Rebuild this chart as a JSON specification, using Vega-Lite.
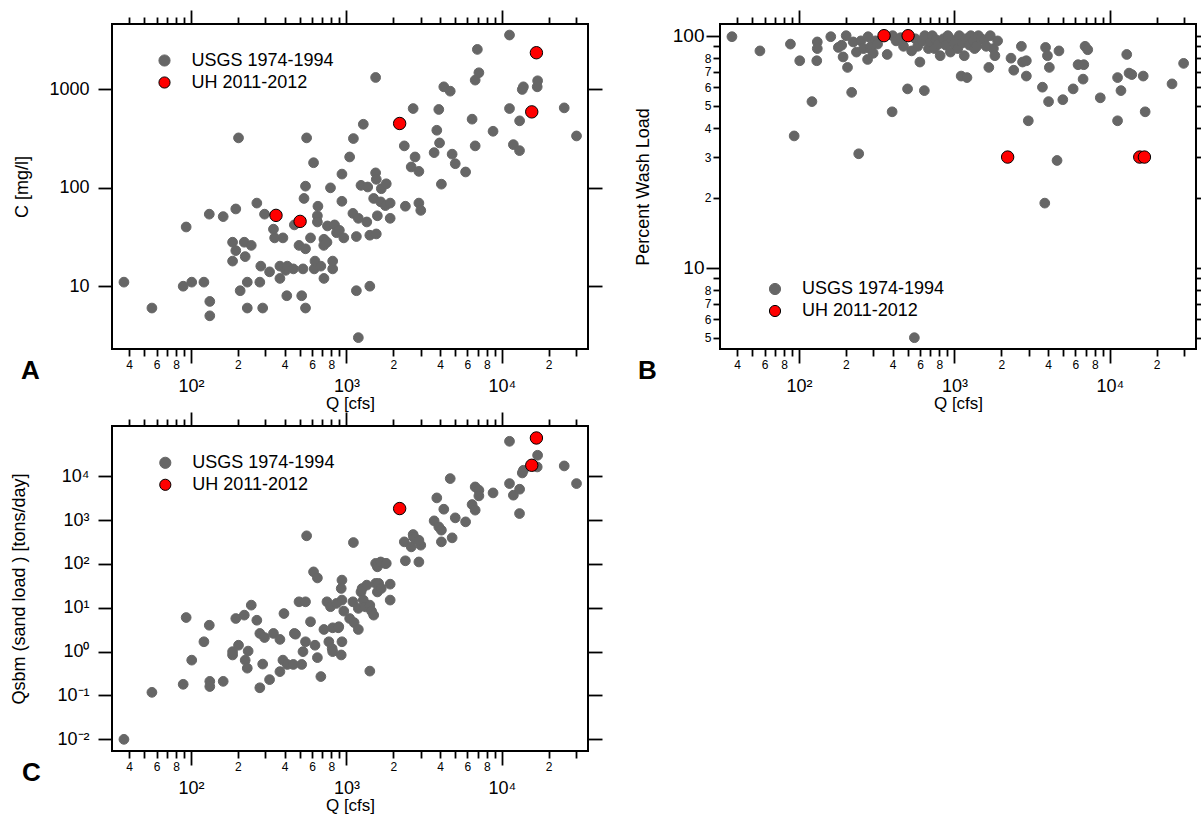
{
"$schema": "https://vega.github.io/schema/vega-lite/v6.json",
"padding": {"left": 9, "top": 8, "right": 2, "bottom": 2},
"background": "white",
"datasets": {
"A": [
{"q":37,"v":11,"s":"USGS 1974-1994"},{"q":56,"v":6,"s":"USGS 1974-1994"},{"q":89,"v":10,"s":"USGS 1974-1994"},{"q":101,"v":11,"s":"USGS 1974-1994"},{"q":121,"v":11,"s":"USGS 1974-1994"},{"q":132,"v":7,"s":"USGS 1974-1994"},{"q":132,"v":5,"s":"USGS 1974-1994"},{"q":93,"v":40,"s":"USGS 1974-1994"},{"q":131,"v":54,"s":"USGS 1974-1994"},{"q":161,"v":51,"s":"USGS 1974-1994"},{"q":194,"v":61,"s":"USGS 1974-1994"},{"q":202,"v":322,"s":"USGS 1974-1994"},{"q":185,"v":28,"s":"USGS 1974-1994"},{"q":194,"v":23,"s":"USGS 1974-1994"},{"q":220,"v":28,"s":"USGS 1974-1994"},{"q":223,"v":20,"s":"USGS 1974-1994"},{"q":244,"v":26,"s":"USGS 1974-1994"},{"q":185,"v":18,"s":"USGS 1974-1994"},{"q":207,"v":9,"s":"USGS 1974-1994"},{"q":230,"v":11,"s":"USGS 1974-1994"},{"q":230,"v":6,"s":"USGS 1974-1994"},{"q":289,"v":6,"s":"USGS 1974-1994"},{"q":277,"v":11,"s":"USGS 1974-1994"},{"q":281,"v":16,"s":"USGS 1974-1994"},{"q":265,"v":70,"s":"USGS 1974-1994"},{"q":297,"v":54,"s":"USGS 1974-1994"},{"q":320,"v":14,"s":"USGS 1974-1994"},{"q":339,"v":38,"s":"USGS 1974-1994"},{"q":345,"v":31,"s":"USGS 1974-1994"},{"q":390,"v":31,"s":"USGS 1974-1994"},{"q":373,"v":16,"s":"USGS 1974-1994"},{"q":373,"v":12,"s":"USGS 1974-1994"},{"q":406,"v":14.5,"s":"USGS 1974-1994"},{"q":416,"v":16,"s":"USGS 1974-1994"},{"q":413,"v":8,"s":"USGS 1974-1994"},{"q":455,"v":15,"s":"USGS 1974-1994"},{"q":462,"v":42,"s":"USGS 1974-1994"},{"q":515,"v":8,"s":"USGS 1974-1994"},{"q":525,"v":15,"s":"USGS 1974-1994"},{"q":545,"v":6,"s":"USGS 1974-1994"},{"q":495,"v":26,"s":"USGS 1974-1994"},{"q":545,"v":24,"s":"USGS 1974-1994"},{"q":533,"v":78,"s":"USGS 1974-1994"},{"q":545,"v":104,"s":"USGS 1974-1994"},{"q":554,"v":322,"s":"USGS 1974-1994"},{"q":614,"v":180,"s":"USGS 1974-1994"},{"q":587,"v":31,"s":"USGS 1974-1994"},{"q":620,"v":15,"s":"USGS 1974-1994"},{"q":627,"v":18,"s":"USGS 1974-1994"},{"q":650,"v":52,"s":"USGS 1974-1994"},{"q":655,"v":65,"s":"USGS 1974-1994"},{"q":650,"v":45,"s":"USGS 1974-1994"},{"q":684,"v":16,"s":"USGS 1974-1994"},{"q":716,"v":12,"s":"USGS 1974-1994"},{"q":716,"v":30,"s":"USGS 1974-1994"},{"q":714,"v":26,"s":"USGS 1974-1994"},{"q":749,"v":28,"s":"USGS 1974-1994"},{"q":754,"v":41,"s":"USGS 1974-1994"},{"q":789,"v":100,"s":"USGS 1974-1994"},{"q":815,"v":15,"s":"USGS 1974-1994"},{"q":815,"v":18,"s":"USGS 1974-1994"},{"q":838,"v":42,"s":"USGS 1974-1994"},{"q":863,"v":35,"s":"USGS 1974-1994"},{"q":900,"v":37,"s":"USGS 1974-1994"},{"q":934,"v":73,"s":"USGS 1974-1994"},{"q":935,"v":138,"s":"USGS 1974-1994"},{"q":961,"v":31,"s":"USGS 1974-1994"},{"q":1048,"v":206,"s":"USGS 1974-1994"},{"q":1108,"v":317,"s":"USGS 1974-1994"},{"q":1100,"v":55,"s":"USGS 1974-1994"},{"q":1158,"v":32,"s":"USGS 1974-1994"},{"q":1158,"v":9,"s":"USGS 1974-1994"},{"q":1192,"v":3,"s":"USGS 1974-1994"},{"q":1283,"v":443,"s":"USGS 1974-1994"},{"q":1240,"v":106,"s":"USGS 1974-1994"},{"q":1192,"v":49,"s":"USGS 1974-1994"},{"q":1351,"v":45,"s":"USGS 1974-1994"},{"q":1413,"v":33,"s":"USGS 1974-1994"},{"q":1413,"v":10,"s":"USGS 1974-1994"},{"q":1370,"v":102,"s":"USGS 1974-1994"},{"q":1540,"v":1324,"s":"USGS 1974-1994"},{"q":1540,"v":142,"s":"USGS 1974-1994"},{"q":1555,"v":122,"s":"USGS 1974-1994"},{"q":1496,"v":78,"s":"USGS 1974-1994"},{"q":1555,"v":34,"s":"USGS 1974-1994"},{"q":1580,"v":52,"s":"USGS 1974-1994"},{"q":1675,"v":98,"s":"USGS 1974-1994"},{"q":1660,"v":72,"s":"USGS 1974-1994"},{"q":1803,"v":110,"s":"USGS 1974-1994"},{"q":1780,"v":66,"s":"USGS 1974-1994"},{"q":1910,"v":70,"s":"USGS 1974-1994"},{"q":1910,"v":49,"s":"USGS 1974-1994"},{"q":2355,"v":267,"s":"USGS 1974-1994"},{"q":2685,"v":640,"s":"USGS 1974-1994"},{"q":2762,"v":206,"s":"USGS 1974-1994"},{"q":2609,"v":163,"s":"USGS 1974-1994"},{"q":2923,"v":147,"s":"USGS 1974-1994"},{"q":2393,"v":65,"s":"USGS 1974-1994"},{"q":2923,"v":70,"s":"USGS 1974-1994"},{"q":3006,"v":59,"s":"USGS 1974-1994"},{"q":3664,"v":228,"s":"USGS 1974-1994"},{"q":3812,"v":385,"s":"USGS 1974-1994"},{"q":3925,"v":626,"s":"USGS 1974-1994"},{"q":3970,"v":286,"s":"USGS 1974-1994"},{"q":4080,"v":109,"s":"USGS 1974-1994"},{"q":4228,"v":1064,"s":"USGS 1974-1994"},{"q":4650,"v":961,"s":"USGS 1974-1994"},{"q":4783,"v":220,"s":"USGS 1974-1994"},{"q":5010,"v":176,"s":"USGS 1974-1994"},{"q":5840,"v":145,"s":"USGS 1974-1994"},{"q":6430,"v":499,"s":"USGS 1974-1994"},{"q":6730,"v":267,"s":"USGS 1974-1994"},{"q":6730,"v":1245,"s":"USGS 1974-1994"},{"q":7110,"v":1479,"s":"USGS 1974-1994"},{"q":6950,"v":2554,"s":"USGS 1974-1994"},{"q":8770,"v":376,"s":"USGS 1974-1994"},{"q":11190,"v":3575,"s":"USGS 1974-1994"},{"q":11190,"v":640,"s":"USGS 1974-1994"},{"q":11850,"v":275,"s":"USGS 1974-1994"},{"q":12980,"v":239,"s":"USGS 1974-1994"},{"q":13000,"v":480,"s":"USGS 1974-1994"},{"q":13520,"v":1000,"s":"USGS 1974-1994"},{"q":13750,"v":1064,"s":"USGS 1974-1994"},{"q":16870,"v":1064,"s":"USGS 1974-1994"},{"q":16970,"v":1226,"s":"USGS 1974-1994"},{"q":25170,"v":650,"s":"USGS 1974-1994"},{"q":30200,"v":337,"s":"USGS 1974-1994"},
{"q":352,"v":52.5,"s":"UH 2011-2012"},{"q":503,"v":45.6,"s":"UH 2011-2012"},{"q":2198,"v":451,"s":"UH 2011-2012"},{"q":15560,"v":592,"s":"UH 2011-2012"},{"q":16670,"v":2364,"s":"UH 2011-2012"}
],
"B": [
{"q":37,"v":99,"s":"USGS 1974-1994"},{"q":56,"v":86,"s":"USGS 1974-1994"},{"q":88,"v":92,"s":"USGS 1974-1994"},{"q":101,"v":78,"s":"USGS 1974-1994"},{"q":93,"v":37,"s":"USGS 1974-1994"},{"q":121,"v":52,"s":"USGS 1974-1994"},{"q":130,"v":78,"s":"USGS 1974-1994"},{"q":131,"v":94,"s":"USGS 1974-1994"},{"q":131,"v":88,"s":"USGS 1974-1994"},{"q":160,"v":99,"s":"USGS 1974-1994"},{"q":201,"v":100,"s":"USGS 1974-1994"},{"q":188,"v":91,"s":"USGS 1974-1994"},{"q":192,"v":81,"s":"USGS 1974-1994"},{"q":205,"v":73,"s":"USGS 1974-1994"},{"q":218,"v":57,"s":"USGS 1974-1994"},{"q":223,"v":94,"s":"USGS 1974-1994"},{"q":234,"v":85,"s":"USGS 1974-1994"},{"q":179,"v":89,"s":"USGS 1974-1994"},{"q":242,"v":31,"s":"USGS 1974-1994"},{"q":250,"v":95,"s":"USGS 1974-1994"},{"q":260,"v":88,"s":"USGS 1974-1994"},{"q":276,"v":79,"s":"USGS 1974-1994"},{"q":278,"v":99,"s":"USGS 1974-1994"},{"q":286,"v":88,"s":"USGS 1974-1994"},{"q":291,"v":90,"s":"USGS 1974-1994"},{"q":300,"v":84,"s":"USGS 1974-1994"},{"q":310,"v":95,"s":"USGS 1974-1994"},{"q":320,"v":92,"s":"USGS 1974-1994"},{"q":369,"v":83,"s":"USGS 1974-1994"},{"q":397,"v":47,"s":"USGS 1974-1994"},{"q":400,"v":100,"s":"USGS 1974-1994"},{"q":421,"v":95,"s":"USGS 1974-1994"},{"q":450,"v":98,"s":"USGS 1974-1994"},{"q":470,"v":90,"s":"USGS 1974-1994"},{"q":499,"v":59,"s":"USGS 1974-1994"},{"q":530,"v":86,"s":"USGS 1974-1994"},{"q":552,"v":5,"s":"USGS 1974-1994"},{"q":560,"v":97,"s":"USGS 1974-1994"},{"q":580,"v":90,"s":"USGS 1974-1994"},{"q":599,"v":77,"s":"USGS 1974-1994"},{"q":620,"v":95,"s":"USGS 1974-1994"},{"q":640,"v":58,"s":"USGS 1974-1994"},{"q":644,"v":100,"s":"USGS 1974-1994"},{"q":680,"v":88,"s":"USGS 1974-1994"},{"q":700,"v":94,"s":"USGS 1974-1994"},{"q":720,"v":100,"s":"USGS 1974-1994"},{"q":743,"v":88,"s":"USGS 1974-1994"},{"q":760,"v":96,"s":"USGS 1974-1994"},{"q":790,"v":92,"s":"USGS 1974-1994"},{"q":809,"v":82,"s":"USGS 1974-1994"},{"q":850,"v":97,"s":"USGS 1974-1994"},{"q":881,"v":91,"s":"USGS 1974-1994"},{"q":906,"v":100,"s":"USGS 1974-1994"},{"q":942,"v":85,"s":"USGS 1974-1994"},{"q":960,"v":96,"s":"USGS 1974-1994"},{"q":1000,"v":92,"s":"USGS 1974-1994"},{"q":1050,"v":88,"s":"USGS 1974-1994"},{"q":1074,"v":100,"s":"USGS 1974-1994"},{"q":1104,"v":67,"s":"USGS 1974-1994"},{"q":1120,"v":93,"s":"USGS 1974-1994"},{"q":1156,"v":82,"s":"USGS 1974-1994"},{"q":1180,"v":97,"s":"USGS 1974-1994"},{"q":1203,"v":66,"s":"USGS 1974-1994"},{"q":1250,"v":91,"s":"USGS 1974-1994"},{"q":1273,"v":100,"s":"USGS 1974-1994"},{"q":1320,"v":95,"s":"USGS 1974-1994"},{"q":1347,"v":88,"s":"USGS 1974-1994"},{"q":1390,"v":90,"s":"USGS 1974-1994"},{"q":1426,"v":100,"s":"USGS 1974-1994"},{"q":1480,"v":97,"s":"USGS 1974-1994"},{"q":1552,"v":96,"s":"USGS 1974-1994"},{"q":1600,"v":90,"s":"USGS 1974-1994"},{"q":1663,"v":73,"s":"USGS 1974-1994"},{"q":1700,"v":100,"s":"USGS 1974-1994"},{"q":1780,"v":88,"s":"USGS 1974-1994"},{"q":1820,"v":82,"s":"USGS 1974-1994"},{"q":1894,"v":95,"s":"USGS 1974-1994"},{"q":2310,"v":80,"s":"USGS 1974-1994"},{"q":2406,"v":71,"s":"USGS 1974-1994"},{"q":2694,"v":90,"s":"USGS 1974-1994"},{"q":2741,"v":77,"s":"USGS 1974-1994"},{"q":2900,"v":78,"s":"USGS 1974-1994"},{"q":2900,"v":67,"s":"USGS 1974-1994"},{"q":2985,"v":43,"s":"USGS 1974-1994"},{"q":3680,"v":60,"s":"USGS 1974-1994"},{"q":3810,"v":19,"s":"USGS 1974-1994"},{"q":3855,"v":89,"s":"USGS 1974-1994"},{"q":3964,"v":82,"s":"USGS 1974-1994"},{"q":4077,"v":73,"s":"USGS 1974-1994"},{"q":4030,"v":52,"s":"USGS 1974-1994"},{"q":4570,"v":29,"s":"USGS 1974-1994"},{"q":4700,"v":86,"s":"USGS 1974-1994"},{"q":4977,"v":53,"s":"USGS 1974-1994"},{"q":5800,"v":59,"s":"USGS 1974-1994"},{"q":6240,"v":75,"s":"USGS 1974-1994"},{"q":6790,"v":75,"s":"USGS 1974-1994"},{"q":6720,"v":65,"s":"USGS 1974-1994"},{"q":6920,"v":90,"s":"USGS 1974-1994"},{"q":7200,"v":87,"s":"USGS 1974-1994"},{"q":8670,"v":54,"s":"USGS 1974-1994"},{"q":11200,"v":43,"s":"USGS 1974-1994"},{"q":11200,"v":66,"s":"USGS 1974-1994"},{"q":11780,"v":58,"s":"USGS 1974-1994"},{"q":12830,"v":83,"s":"USGS 1974-1994"},{"q":13280,"v":69,"s":"USGS 1974-1994"},{"q":13830,"v":68,"s":"USGS 1974-1994"},{"q":16380,"v":67,"s":"USGS 1974-1994"},{"q":16860,"v":47,"s":"USGS 1974-1994"},{"q":25100,"v":62,"s":"USGS 1974-1994"},{"q":29800,"v":76,"s":"USGS 1974-1994"},
{"q":352,"v":100,"s":"UH 2011-2012"},{"q":503,"v":100,"s":"UH 2011-2012"},{"q":2198,"v":30,"s":"UH 2011-2012"},{"q":15560,"v":30,"s":"UH 2011-2012"},{"q":16670,"v":30,"s":"UH 2011-2012"}
],
"C": [
{"q":37,"v":0.01,"s":"USGS 1974-1994"},{"q":56,"v":0.118,"s":"USGS 1974-1994"},{"q":89,"v":0.18,"s":"USGS 1974-1994"},{"q":93,"v":6.0,"s":"USGS 1974-1994"},{"q":101,"v":0.64,"s":"USGS 1974-1994"},{"q":121,"v":1.68,"s":"USGS 1974-1994"},{"q":131,"v":4.0,"s":"USGS 1974-1994"},{"q":132,"v":0.21,"s":"USGS 1974-1994"},{"q":132,"v":0.16,"s":"USGS 1974-1994"},{"q":161,"v":0.21,"s":"USGS 1974-1994"},{"q":185,"v":0.84,"s":"USGS 1974-1994"},{"q":194,"v":5.7,"s":"USGS 1974-1994"},{"q":202,"v":1.4,"s":"USGS 1974-1994"},{"q":185,"v":1.0,"s":"USGS 1974-1994"},{"q":220,"v":6.8,"s":"USGS 1974-1994"},{"q":223,"v":0.64,"s":"USGS 1974-1994"},{"q":230,"v":0.42,"s":"USGS 1974-1994"},{"q":233,"v":1.03,"s":"USGS 1974-1994"},{"q":244,"v":11.5,"s":"USGS 1974-1994"},{"q":265,"v":5.2,"s":"USGS 1974-1994"},{"q":277,"v":2.6,"s":"USGS 1974-1994"},{"q":289,"v":0.52,"s":"USGS 1974-1994"},{"q":277,"v":0.15,"s":"USGS 1974-1994"},{"q":297,"v":2.1,"s":"USGS 1974-1994"},{"q":320,"v":0.23,"s":"USGS 1974-1994"},{"q":339,"v":2.6,"s":"USGS 1974-1994"},{"q":373,"v":1.9,"s":"USGS 1974-1994"},{"q":373,"v":0.35,"s":"USGS 1974-1994"},{"q":390,"v":0.64,"s":"USGS 1974-1994"},{"q":396,"v":7.4,"s":"USGS 1974-1994"},{"q":416,"v":0.51,"s":"USGS 1974-1994"},{"q":462,"v":2.6,"s":"USGS 1974-1994"},{"q":470,"v":2.5,"s":"USGS 1974-1994"},{"q":455,"v":0.51,"s":"USGS 1974-1994"},{"q":515,"v":0.51,"s":"USGS 1974-1994"},{"q":525,"v":1.0,"s":"USGS 1974-1994"},{"q":545,"v":1.68,"s":"USGS 1974-1994"},{"q":495,"v":13.7,"s":"USGS 1974-1994"},{"q":545,"v":13.7,"s":"USGS 1974-1994"},{"q":554,"v":438,"s":"USGS 1974-1994"},{"q":587,"v":4.8,"s":"USGS 1974-1994"},{"q":614,"v":66,"s":"USGS 1974-1994"},{"q":650,"v":48,"s":"USGS 1974-1994"},{"q":627,"v":1.4,"s":"USGS 1974-1994"},{"q":650,"v":0.73,"s":"USGS 1974-1994"},{"q":684,"v":0.27,"s":"USGS 1974-1994"},{"q":716,"v":3.2,"s":"USGS 1974-1994"},{"q":749,"v":13.7,"s":"USGS 1974-1994"},{"q":770,"v":1.68,"s":"USGS 1974-1994"},{"q":789,"v":10.6,"s":"USGS 1974-1994"},{"q":809,"v":1.17,"s":"USGS 1974-1994"},{"q":815,"v":1.0,"s":"USGS 1974-1994"},{"q":815,"v":3.5,"s":"USGS 1974-1994"},{"q":863,"v":12.6,"s":"USGS 1974-1994"},{"q":885,"v":3.5,"s":"USGS 1974-1994"},{"q":892,"v":3.7,"s":"USGS 1974-1994"},{"q":935,"v":42.8,"s":"USGS 1974-1994"},{"q":925,"v":27.6,"s":"USGS 1974-1994"},{"q":935,"v":15,"s":"USGS 1974-1994"},{"q":935,"v":1.68,"s":"USGS 1974-1994"},{"q":925,"v":0.84,"s":"USGS 1974-1994"},{"q":961,"v":8.4,"s":"USGS 1974-1994"},{"q":1048,"v":5.7,"s":"USGS 1974-1994"},{"q":1108,"v":308,"s":"USGS 1974-1994"},{"q":1100,"v":13.7,"s":"USGS 1974-1994"},{"q":1120,"v":4.6,"s":"USGS 1974-1994"},{"q":1192,"v":3.2,"s":"USGS 1974-1994"},{"q":1192,"v":9.7,"s":"USGS 1974-1994"},{"q":1240,"v":23,"s":"USGS 1974-1994"},{"q":1260,"v":27.5,"s":"USGS 1974-1994"},{"q":1283,"v":15,"s":"USGS 1974-1994"},{"q":1325,"v":10.5,"s":"USGS 1974-1994"},{"q":1351,"v":32.9,"s":"USGS 1974-1994"},{"q":1413,"v":0.36,"s":"USGS 1974-1994"},{"q":1413,"v":11.5,"s":"USGS 1974-1994"},{"q":1450,"v":8.4,"s":"USGS 1974-1994"},{"q":1540,"v":103,"s":"USGS 1974-1994"},{"q":1540,"v":36,"s":"USGS 1974-1994"},{"q":1580,"v":23,"s":"USGS 1974-1994"},{"q":1496,"v":6.8,"s":"USGS 1974-1994"},{"q":1580,"v":86,"s":"USGS 1974-1994"},{"q":1610,"v":36,"s":"USGS 1974-1994"},{"q":1660,"v":111,"s":"USGS 1974-1994"},{"q":1675,"v":27.6,"s":"USGS 1974-1994"},{"q":1780,"v":102,"s":"USGS 1974-1994"},{"q":1803,"v":103,"s":"USGS 1974-1994"},{"q":1910,"v":34.6,"s":"USGS 1974-1994"},{"q":1910,"v":15,"s":"USGS 1974-1994"},{"q":2355,"v":319,"s":"USGS 1974-1994"},{"q":2393,"v":118,"s":"USGS 1974-1994"},{"q":2609,"v":245,"s":"USGS 1974-1994"},{"q":2685,"v":469,"s":"USGS 1974-1994"},{"q":2700,"v":414,"s":"USGS 1974-1994"},{"q":2762,"v":380,"s":"USGS 1974-1994"},{"q":2923,"v":111,"s":"USGS 1974-1994"},{"q":3006,"v":268,"s":"USGS 1974-1994"},{"q":2923,"v":347,"s":"USGS 1974-1994"},{"q":3664,"v":961,"s":"USGS 1974-1994"},{"q":3812,"v":3210,"s":"USGS 1974-1994"},{"q":3925,"v":701,"s":"USGS 1974-1994"},{"q":4080,"v":319,"s":"USGS 1974-1994"},{"q":4080,"v":589,"s":"USGS 1974-1994"},{"q":4228,"v":1771,"s":"USGS 1974-1994"},{"q":4650,"v":8850,"s":"USGS 1974-1994"},{"q":4783,"v":394,"s":"USGS 1974-1994"},{"q":5010,"v":1125,"s":"USGS 1974-1994"},{"q":5840,"v":912,"s":"USGS 1974-1994"},{"q":6430,"v":2264,"s":"USGS 1974-1994"},{"q":6730,"v":5710,"s":"USGS 1974-1994"},{"q":7110,"v":4800,"s":"USGS 1974-1994"},{"q":6730,"v":1687,"s":"USGS 1974-1994"},{"q":7110,"v":3565,"s":"USGS 1974-1994"},{"q":8770,"v":4170,"s":"USGS 1974-1994"},{"q":11190,"v":62700,"s":"USGS 1974-1994"},{"q":11190,"v":6810,"s":"USGS 1974-1994"},{"q":11850,"v":3700,"s":"USGS 1974-1994"},{"q":13000,"v":5060,"s":"USGS 1974-1994"},{"q":12980,"v":1411,"s":"USGS 1974-1994"},{"q":13520,"v":11900,"s":"USGS 1974-1994"},{"q":13750,"v":13700,"s":"USGS 1974-1994"},{"q":16870,"v":16300,"s":"USGS 1974-1994"},{"q":16970,"v":30100,"s":"USGS 1974-1994"},{"q":25170,"v":17200,"s":"USGS 1974-1994"},{"q":30200,"v":6810,"s":"USGS 1974-1994"},
{"q":2198,"v":1834,"s":"UH 2011-2012"},{"q":15560,"v":17800,"s":"UH 2011-2012"},{"q":16670,"v":74600,"s":"UH 2011-2012"}
]
},
"columns": 2,
"bounds": "flush",
"spacing": {"row": 77, "column": 132},
"resolve": {"scale": {"color": "independent", "stroke": "independent"}, "legend": {"color": "independent", "stroke": "independent"}},
"concat": [
{
"width": 476, "height": 325,
"title": {"text": "A", "orient": "bottom", "anchor": "start", "frame": "group", "dx": -91, "dy": -57},
"layer": [
{"data": {"name": "A"}, "transform": [{"filter": "datum.s == 'USGS 1974-1994'"}],
"mark": {"type": "point", "filled": true, "opacity": 1, "size": 95, "strokeWidth": 1},
"encoding": {
"x": {"field": "q", "type": "quantitative", "scale": {"type": "log", "domain": [31, 35800], "nice": false},
"axis": {"orient": "bottom", "values": [40,50,60,70,80,90,100,200,300,400,500,600,700,800,900,1000,2000,3000,4000,5000,6000,7000,8000,9000,10000,20000,30000], "title": "Q [cfs]", "titlePadding": 0, "titleFontSize": 17,
"labelExpr": "datum.value == 100 ? '10²' : datum.value == 1000 ? '10³' : datum.value == 10000 ? '10⁴' : indexof([40,60,80,200,400,600,800,2000,4000,6000,8000,20000], datum.value) >= 0 ? substring(toString(datum.value), 0, 1) : ''",
"labelFontSize": {"condition": {"test": "datum.value == 100 || datum.value == 1000 || datum.value == 10000", "value": 18}, "value": 12},
"labelPadding": {"condition": {"test": "datum.value == 100 || datum.value == 1000 || datum.value == 10000", "value": 14}, "value": 3},
"tickSize": {"condition": {"test": "datum.value == 100 || datum.value == 1000 || datum.value == 10000", "value": 14}, "value": 7}}},
"y": {"field": "v", "type": "quantitative", "scale": {"type": "log", "domain": [2.3, 4630], "nice": false},
"axis": {"orient": "left", "values": [10,100,1000], "format": "d", "title": "C [mg/l]", "tickSize": 14, "labelPadding": 9, "titlePadding": 17, "labelFontSize": 18}},
"color": {"field": "s", "type": "nominal", "scale": {"domain": ["USGS 1974-1994", "UH 2011-2012"], "range": ["#666666", "#ff0000"]}, "legend": {"title": null, "orient": "none", "legendX": 43.5, "legendY": 27.5}},
"stroke": {"field": "s", "type": "nominal", "scale": {"domain": ["USGS 1974-1994", "UH 2011-2012"], "range": ["#666666", "#000000"]}, "legend": {"title": null, "orient": "none", "legendX": 43.5, "legendY": 27.5}}
}},
{"data": {"name": "A"}, "transform": [{"filter": "datum.s == 'UH 2011-2012'"}],
"mark": {"type": "point", "filled": true, "opacity": 1, "size": 154, "strokeWidth": 1},
"encoding": {
"x": {"field": "q", "type": "quantitative", "scale": {"type": "log", "domain": [31, 35800], "nice": false},
"axis": {"orient": "top", "values": [40,50,60,70,80,90,100,200,300,400,500,600,700,800,900,1000,2000,3000,4000,5000,6000,7000,8000,9000,10000,20000,30000], "labels": false, "title": null,
"tickSize": {"condition": {"test": "datum.value == 100 || datum.value == 1000 || datum.value == 10000", "value": 14}, "value": 7}}},
"y": {"field": "v", "type": "quantitative", "scale": {"type": "log", "domain": [2.3, 4630], "nice": false},
"axis": {"orient": "right", "values": [10,100,1000], "labels": false, "title": null, "tickSize": 14}},
"color": {"field": "s", "type": "nominal", "scale": {"domain": ["USGS 1974-1994", "UH 2011-2012"], "range": ["#666666", "#ff0000"]}, "legend": {"title": null, "orient": "none", "legendX": 43.5, "legendY": 27.5}},
"stroke": {"field": "s", "type": "nominal", "scale": {"domain": ["USGS 1974-1994", "UH 2011-2012"], "range": ["#666666", "#000000"]}, "legend": {"title": null, "orient": "none", "legendX": 43.5, "legendY": 27.5}}
}}
],
"resolve": {"axis": {"x": "independent", "y": "independent"}}
},
{
"width": 476, "height": 325,
"title": {"text": "B", "orient": "bottom", "anchor": "start", "frame": "group", "dx": -82, "dy": -57},
"layer": [
{"data": {"name": "B"}, "transform": [{"filter": "datum.s == 'USGS 1974-1994'"}],
"mark": {"type": "point", "filled": true, "opacity": 1, "size": 95, "strokeWidth": 1},
"encoding": {
"x": {"field": "q", "type": "quantitative", "scale": {"type": "log", "domain": [31, 35800], "nice": false},
"axis": {"orient": "bottom", "values": [40,50,60,70,80,90,100,200,300,400,500,600,700,800,900,1000,2000,3000,4000,5000,6000,7000,8000,9000,10000,20000,30000], "title": "Q [cfs]", "titlePadding": 0, "titleFontSize": 17,
"labelExpr": "datum.value == 100 ? '10²' : datum.value == 1000 ? '10³' : datum.value == 10000 ? '10⁴' : indexof([40,60,80,200,400,600,800,2000,4000,6000,8000,20000], datum.value) >= 0 ? substring(toString(datum.value), 0, 1) : ''",
"labelFontSize": {"condition": {"test": "datum.value == 100 || datum.value == 1000 || datum.value == 10000", "value": 18}, "value": 12},
"labelPadding": {"condition": {"test": "datum.value == 100 || datum.value == 1000 || datum.value == 10000", "value": 14}, "value": 3},
"tickSize": {"condition": {"test": "datum.value == 100 || datum.value == 1000 || datum.value == 10000", "value": 14}, "value": 7}}},
"y": {"field": "v", "type": "quantitative", "scale": {"type": "log", "domain": [4.47, 112.3], "nice": false},
"axis": {"orient": "left", "values": [5,6,7,8,9,10,20,30,40,50,60,70,80,90,100], "title": "Percent Wash Load", "labelPadding": 2, "titlePadding": 20,
"labelExpr": "datum.value == 100 ? '100' : datum.value == 10 ? '10' : (datum.value == 9 || datum.value == 90) ? '' : substring(toString(datum.value), 0, 1)",
"labelFontSize": {"condition": {"test": "datum.value == 10 || datum.value == 100", "value": 19}, "value": 12},
"tickSize": {"condition": {"test": "datum.value == 10 || datum.value == 100", "value": 14}, "value": 7}}},
"color": {"field": "s", "type": "nominal", "scale": {"domain": ["USGS 1974-1994", "UH 2011-2012"], "range": ["#666666", "#ff0000"]}, "legend": {"title": null, "orient": "none", "legendX": 46, "legendY": 256}},
"stroke": {"field": "s", "type": "nominal", "scale": {"domain": ["USGS 1974-1994", "UH 2011-2012"], "range": ["#666666", "#000000"]}, "legend": {"title": null, "orient": "none", "legendX": 46, "legendY": 256}}
}},
{"data": {"name": "B"}, "transform": [{"filter": "datum.s == 'UH 2011-2012'"}],
"mark": {"type": "point", "filled": true, "opacity": 1, "size": 154, "strokeWidth": 1},
"encoding": {
"x": {"field": "q", "type": "quantitative", "scale": {"type": "log", "domain": [31, 35800], "nice": false},
"axis": {"orient": "top", "values": [40,50,60,70,80,90,100,200,300,400,500,600,700,800,900,1000,2000,3000,4000,5000,6000,7000,8000,9000,10000,20000,30000], "labels": false, "title": null,
"tickSize": {"condition": {"test": "datum.value == 100 || datum.value == 1000 || datum.value == 10000", "value": 14}, "value": 7}}},
"y": {"field": "v", "type": "quantitative", "scale": {"type": "log", "domain": [4.47, 112.3], "nice": false},
"axis": {"orient": "right", "values": [5,6,7,8,9,10,20,30,40,50,60,70,80,90,100], "labels": false, "title": null,
"tickSize": {"condition": {"test": "datum.value == 10 || datum.value == 100", "value": 14}, "value": 7}}},
"color": {"field": "s", "type": "nominal", "scale": {"domain": ["USGS 1974-1994", "UH 2011-2012"], "range": ["#666666", "#ff0000"]}, "legend": {"title": null, "orient": "none", "legendX": 46, "legendY": 256}},
"stroke": {"field": "s", "type": "nominal", "scale": {"domain": ["USGS 1974-1994", "UH 2011-2012"], "range": ["#666666", "#000000"]}, "legend": {"title": null, "orient": "none", "legendX": 46, "legendY": 256}}
}}
],
"resolve": {"axis": {"x": "independent", "y": "independent"}}
},
{
"width": 476, "height": 325,
"title": {"text": "C", "orient": "bottom", "anchor": "start", "frame": "group", "dx": -90, "dy": -57},
"layer": [
{"data": {"name": "C"}, "transform": [{"filter": "datum.s == 'USGS 1974-1994'"}],
"mark": {"type": "point", "filled": true, "opacity": 1, "size": 95, "strokeWidth": 1},
"encoding": {
"x": {"field": "q", "type": "quantitative", "scale": {"type": "log", "domain": [31, 35800], "nice": false},
"axis": {"orient": "bottom", "values": [40,50,60,70,80,90,100,200,300,400,500,600,700,800,900,1000,2000,3000,4000,5000,6000,7000,8000,9000,10000,20000,30000], "title": "Q [cfs]", "titlePadding": 0, "titleFontSize": 17,
"labelExpr": "datum.value == 100 ? '10²' : datum.value == 1000 ? '10³' : datum.value == 10000 ? '10⁴' : indexof([40,60,80,200,400,600,800,2000,4000,6000,8000,20000], datum.value) >= 0 ? substring(toString(datum.value), 0, 1) : ''",
"labelFontSize": {"condition": {"test": "datum.value == 100 || datum.value == 1000 || datum.value == 10000", "value": 18}, "value": 12},
"labelPadding": {"condition": {"test": "datum.value == 100 || datum.value == 1000 || datum.value == 10000", "value": 14}, "value": 3},
"tickSize": {"condition": {"test": "datum.value == 100 || datum.value == 1000 || datum.value == 10000", "value": 14}, "value": 7}}},
"y": {"field": "v", "type": "quantitative", "scale": {"type": "log", "domain": [0.00542, 140000], "nice": false},
"axis": {"orient": "left", "values": [0.01,0.1,1,10,100,1000,10000], "title": "Qsbm (sand load ) [tons/day]", "tickSize": 14, "labelPadding": 9, "titlePadding": 28, "labelFontSize": 18,
"labelExpr": "datum.value == 0.01 ? '10⁻²' : datum.value == 0.1 ? '10⁻¹' : datum.value == 1 ? '10⁰' : datum.value == 10 ? '10¹' : datum.value == 100 ? '10²' : datum.value == 1000 ? '10³' : '10⁴'"}},
"color": {"field": "s", "type": "nominal", "scale": {"domain": ["USGS 1974-1994", "UH 2011-2012"], "range": ["#666666", "#ff0000"]}, "legend": {"title": null, "orient": "none", "legendX": 44.3, "legendY": 27.8}},
"stroke": {"field": "s", "type": "nominal", "scale": {"domain": ["USGS 1974-1994", "UH 2011-2012"], "range": ["#666666", "#000000"]}, "legend": {"title": null, "orient": "none", "legendX": 44.3, "legendY": 27.8}}
}},
{"data": {"name": "C"}, "transform": [{"filter": "datum.s == 'UH 2011-2012'"}],
"mark": {"type": "point", "filled": true, "opacity": 1, "size": 154, "strokeWidth": 1},
"encoding": {
"x": {"field": "q", "type": "quantitative", "scale": {"type": "log", "domain": [31, 35800], "nice": false},
"axis": {"orient": "top", "values": [40,50,60,70,80,90,100,200,300,400,500,600,700,800,900,1000,2000,3000,4000,5000,6000,7000,8000,9000,10000,20000,30000], "labels": false, "title": null,
"tickSize": {"condition": {"test": "datum.value == 100 || datum.value == 1000 || datum.value == 10000", "value": 14}, "value": 7}}},
"y": {"field": "v", "type": "quantitative", "scale": {"type": "log", "domain": [0.00542, 140000], "nice": false},
"axis": {"orient": "right", "values": [0.01,0.1,1,10,100,1000,10000], "labels": false, "title": null, "tickSize": 14}},
"color": {"field": "s", "type": "nominal", "scale": {"domain": ["USGS 1974-1994", "UH 2011-2012"], "range": ["#666666", "#ff0000"]}, "legend": {"title": null, "orient": "none", "legendX": 44.3, "legendY": 27.8}},
"stroke": {"field": "s", "type": "nominal", "scale": {"domain": ["USGS 1974-1994", "UH 2011-2012"], "range": ["#666666", "#000000"]}, "legend": {"title": null, "orient": "none", "legendX": 44.3, "legendY": 27.8}}
}}
],
"resolve": {"axis": {"x": "independent", "y": "independent"}}
}
],
"config": {
"font": "Liberation Sans",
"view": {"stroke": "black", "strokeWidth": 2},
"axis": {"labelFont": "Liberation Sans", "titleFont": "Liberation Sans", "labelColor": "black", "titleColor": "black", "tickColor": "black", "tickWidth": 1.8, "domain": false, "grid": false, "labelOverlap": false, "labelFlush": false, "labelBound": false, "titleFontWeight": "normal", "titleFontSize": 18, "labelFontSize": 18},
"legend": {"labelFont": "Liberation Sans", "labelFontSize": 18, "labelColor": "black", "symbolType": "circle", "symbolSize": 125, "symbolStrokeWidth": 1, "rowPadding": 4, "labelOffset": 18, "labelLimit": 300, "padding": 0},
"title": {"font": "Liberation Sans", "fontSize": 26, "fontWeight": "bold", "color": "black", "offset": 0}
}
}
